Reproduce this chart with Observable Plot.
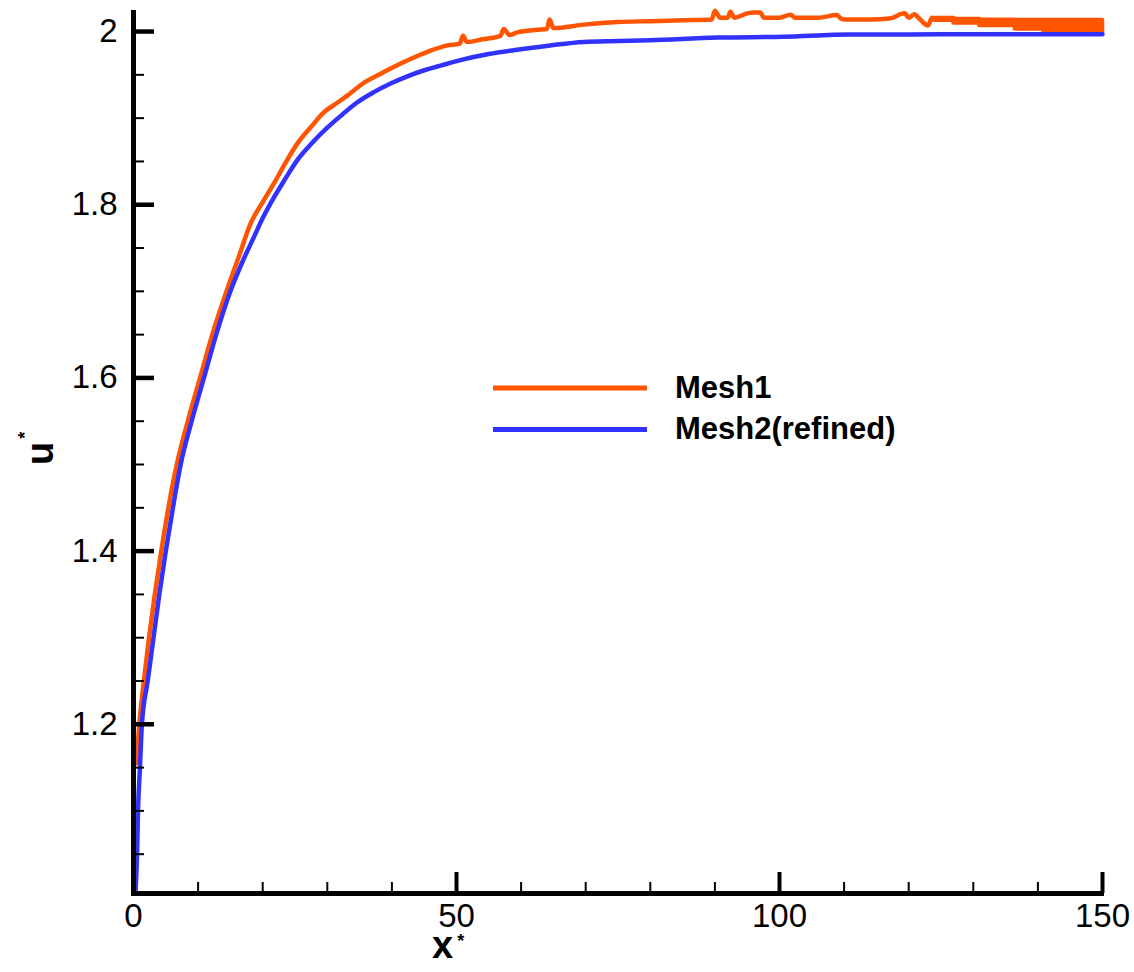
<!DOCTYPE html>
<html>
<head>
<meta charset="utf-8">
<script src="https://cdn.jsdelivr.net/npm/d3@7"></script>
<script src="https://cdn.jsdelivr.net/npm/@observablehq/plot@0.6"></script>
<style>
  html, body { margin: 0; padding: 0; background: #fff; }
  #chart { position: relative; width: 1134px; height: 972px; }
  #chart svg { display: block; }
</style>
</head>
<body>
<div id="chart"></div>
<script>
// ---- Data ----
const seriesNames = ["Mesh1", "Mesh2(refined)"];
const seriesColors = ["#ff5500", "#3232ff"];
const xTitle = "x", yTitle = "u", titleMark = "*";

// Mesh1 (orange) main curve
const mesh1X = [0.45, 0.9, 1.6, 2.4, 3.3, 4.3, 5.4, 6.7, 8.4, 10.3, 12.2, 14.4, 16.3, 18.1, 20.0, 21.7, 23.5, 25.3, 27.5, 29.5, 31.0, 33.1, 35.5, 38.2, 40.8, 43.4, 46.0, 48.6, 50.5, 51.0, 51.6, 54.0, 56.8, 57.3, 58.2, 59.4, 62.5, 64.0, 64.4, 65.0, 69.7, 74.9, 80.0, 85.2, 89.5, 90.0, 90.8, 92.0, 92.4, 93.0, 95.0, 96.0, 97.0, 97.6, 100.0, 101.7, 102.4, 106.0, 108.9, 109.5, 110.0, 114.0, 117.0, 119.4, 120.0, 120.9, 121.5, 123.0, 123.6, 124.0];
const mesh1U = [1.155, 1.20, 1.25, 1.30, 1.35, 1.40, 1.45, 1.50, 1.55, 1.60, 1.65, 1.70, 1.74, 1.778, 1.803, 1.824, 1.848, 1.870, 1.890, 1.907, 1.915, 1.926, 1.940, 1.951, 1.961, 1.970, 1.978, 1.984, 1.986, 1.995, 1.988, 1.991, 1.995, 2.003, 1.996, 1.999, 2.002, 2.003, 2.014, 2.004, 2.008, 2.011, 2.012, 2.013, 2.014, 2.024, 2.016, 2.016, 2.023, 2.016, 2.021, 2.022, 2.022, 2.016, 2.016, 2.0195, 2.016, 2.016, 2.019, 2.015, 2.014, 2.014, 2.015, 2.021, 2.016, 2.020, 2.016, 2.007, 2.016, 2.015];

// Mesh1 noisy tail: band between lower and upper envelope
const mesh1TailX  = [124.0, 127.0, 131.0, 136.5, 140.9, 143.5, 150.0];
const mesh1TailLo = [2.013, 2.010, 2.007, 2.003, 2.001, 1.999, 1.999];
const mesh1TailHi = [2.015, 2.014, 2.013, 2.0127, 2.0127, 2.0127, 2.0127];

// Mesh2 (blue)
const mesh2X = [0.3, 0.55, 0.7, 1.0, 1.3, 2.2, 3.1, 4.0, 5.0, 6.1, 7.3, 9.0, 10.9, 12.8, 15.0, 16.8, 18.6, 20.1, 21.7, 23.5, 25.3, 27.6, 30.0, 32.3, 34.6, 37.2, 39.8, 42.3, 44.9, 47.7, 50.6, 55.0, 59.4, 64.5, 69.7, 75.0, 80.0, 90.4, 100.6, 111.0, 120.0, 130.0, 140.0, 150.0];
const mesh2U = [1.005, 1.05, 1.10, 1.15, 1.20, 1.25, 1.30, 1.35, 1.40, 1.45, 1.50, 1.55, 1.60, 1.65, 1.70, 1.733, 1.762, 1.786, 1.808, 1.830, 1.851, 1.871, 1.889, 1.904, 1.918, 1.930, 1.940, 1.948, 1.955, 1.961, 1.967, 1.974, 1.979, 1.984, 1.988, 1.989, 1.990, 1.993, 1.994, 1.9965, 1.9965, 1.997, 1.997, 1.997];

// Axes
const xDomain = [0, 150];
const yDomain = [1.0046, 2.0243];
const xMajor = [0, 50, 100, 150];
const xMinor = [10, 20, 30, 40, 60, 70, 80, 90, 110, 120, 130, 140];
const yMajor = [1.2, 1.4, 1.6, 1.8, 2];
const yMinor = [1.05, 1.1, 1.15, 1.25, 1.3, 1.35, 1.45, 1.5, 1.55, 1.65, 1.7, 1.75, 1.85, 1.9, 1.95];

// ---- Build tables ----
const mesh1 = mesh1X.map((x, i) => ({x, u: mesh1U[i]}));
const mesh1Tail = mesh1TailX.map((x, i) => ({x, lo: mesh1TailLo[i], hi: mesh1TailHi[i]}));
const mesh2 = mesh2X.map((x, i) => ({x, u: mesh2U[i]}));

const W = 1134, H = 972;
const mL = 133, mR = 32, mT = 10, mB = 79;
const frameW = W - mL - mR, frameH = H - mT - mB;
const FONT = "'Liberation Sans', Arial, Helvetica, sans-serif";

const svg = Plot.plot({
  width: W, height: H,
  marginLeft: mL, marginRight: mR, marginTop: mT, marginBottom: mB,
  x: {domain: xDomain},
  y: {domain: yDomain},
  style: {fontFamily: FONT, background: "white", color: "black", overflow: "visible"},
  marks: [
    // curves
    Plot.line(mesh1, {x: "x", y: "u", stroke: seriesColors[0], strokeWidth: 4.5, curve: "monotone-x"}),
    Plot.areaY(mesh1Tail, {x: "x", y1: "lo", y2: "hi", fill: seriesColors[0], stroke: seriesColors[0], strokeWidth: 4.5, curve: "step-after"}),
    Plot.line(mesh2, {x: "x", y: "u", stroke: seriesColors[1], strokeWidth: 4.5, curve: "monotone-x"}),
    // axis lines
    Plot.ruleX([0], {x: d => d, stroke: "black", strokeWidth: 5}),
    Plot.ruleY([yDomain[0]], {y: d => d, stroke: "black", strokeWidth: 5, insetLeft: -2, insetRight: -2}),
    // ticks (inward)
    Plot.tickX(xMinor, {x: d => d, stroke: "black", strokeWidth: 2, insetTop: frameH - 11}),
    Plot.tickX(xMajor, {x: d => d, stroke: "black", strokeWidth: 4, insetTop: frameH - 21}),
    Plot.tickY(yMinor, {y: d => d, stroke: "black", strokeWidth: 2, insetRight: frameW - 11}),
    Plot.tickY(yMajor, {y: d => d, stroke: "black", strokeWidth: 4.5, insetRight: frameW - 21}),
    // tick labels
    Plot.axisX(xMajor, {tickSize: 0, tickPadding: 10, fontSize: 33, label: null, tickFormat: d => String(d)}),
    Plot.axisY(yMajor, {tickSize: 0, tickPadding: 16, fontSize: 33, label: null, tickFormat: d => String(d)})
  ]
});

document.getElementById("chart").appendChild(svg);

const root = d3.select(svg);

// ---- Axis titles with superscript asterisk ----
const xt = root.append("text")
  .attr("x", 432).attr("y", 958)
  .attr("text-anchor", "start")
  .attr("font-family", FONT).attr("font-weight", "bold").attr("font-size", 38)
  .attr("fill", "black");
xt.append("tspan").text(xTitle);
xt.append("tspan").attr("font-size", 18).attr("dx", 4).attr("dy", -11).text(titleMark);

const yt = root.append("text")
  .attr("transform", "translate(53,465) rotate(-90)")
  .attr("text-anchor", "start")
  .attr("font-family", FONT).attr("font-weight", "bold").attr("font-size", 38)
  .attr("fill", "black");
yt.append("tspan").text(yTitle);
yt.append("tspan").attr("font-size", 18).attr("dx", 3).attr("dy", -22).text(titleMark);

// ---- Legend (inside the plot area) ----
const leg = root.append("g").attr("font-family", FONT).attr("text-anchor", "start");
const legendRows = [
  {y: 388, base: 398},
  {y: 429.5, base: 439}
];
seriesNames.forEach((name, i) => {
  leg.append("line")
    .attr("x1", 493).attr("x2", 647)
    .attr("y1", legendRows[i].y).attr("y2", legendRows[i].y)
    .attr("stroke", seriesColors[i]).attr("stroke-width", 5);
  leg.append("text")
    .attr("x", 675).attr("y", legendRows[i].base)
    .attr("text-anchor", "start")
    .attr("font-size", 31).attr("font-weight", "bold")
    .attr("fill", "black")
    .text(name);
});
</script>
</body>
</html>
